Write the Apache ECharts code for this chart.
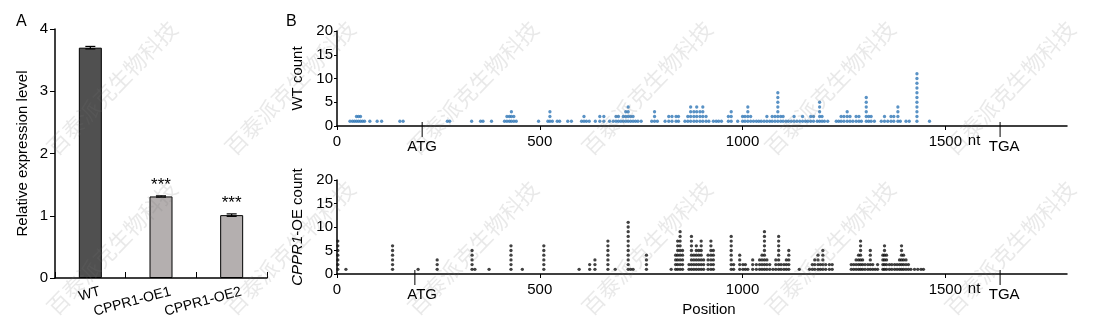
<!DOCTYPE html>
<html><head><meta charset="utf-8">
<script src="https://cdn.jsdelivr.net/npm/echarts@6/dist/echarts.min.js"></script>
<style>html,body{margin:0;padding:0;background:#fff}#c{width:1101px;height:329px}</style>
</head><body><div id="c"></div>
<script>
// ---- Panel A data ----
const categories = ['WT', 'CPPR1-OE1', 'CPPR1-OE2'];
const expression = [3.70, 1.31, 1.01];
const expressionErr = [0.02, 0.01, 0.02];
const significance = ['', '***', '***'];
const expTicks = [0, 1, 2, 3, 4];

// ---- Panel B data ----
const posTicks = [0, 500, 1000, 1500];
const countTicks = [0, 5, 10, 15, 20];
const wtPos = [
  32, 38, 43, 48, 53, 58, 63, 68, 81, 99,
  110, 155, 163, 272, 278, 332, 354, 360, 381, 413,
  419, 425, 430, 436, 442, 497, 520, 525, 531, 543,
  549, 569, 578, 603, 609, 615, 622, 637, 648, 658,
  672, 681, 688, 694, 700, 706, 712, 718, 724, 730,
  736, 742, 750, 776, 783, 790, 809, 818, 826, 836,
  842, 858, 865, 872, 880, 887, 895, 902, 910, 917,
  928, 935, 941, 948, 965, 972, 988, 1000, 1006, 1013,
  1020, 1027, 1034, 1040, 1046, 1053, 1060, 1067, 1073, 1080,
  1087, 1094, 1100, 1107, 1113, 1120, 1127, 1134, 1141, 1148,
  1155, 1161, 1168, 1175, 1184, 1190, 1196, 1202, 1210, 1231,
  1237, 1243, 1250, 1258, 1265, 1272, 1280, 1287, 1293, 1305,
  1311, 1317, 1325, 1342, 1350, 1358, 1366, 1373, 1383, 1389,
  1403, 1411, 1430, 1461
];
const wtCount = [
  1, 1, 1, 2, 2, 2, 1, 1, 1, 1,
  1, 1, 1, 1, 1, 1, 1, 1, 1, 1,
  2, 2, 3, 2, 1, 1, 1, 3, 1, 1,
  1, 1, 1, 1, 2, 1, 1, 1, 2, 2,
  1, 1, 2, 2, 1, 2, 3, 4, 2, 2,
  1, 1, 1, 1, 3, 1, 1, 2, 2, 2,
  2, 1, 2, 4, 3, 4, 3, 4, 2, 1,
  1, 1, 1, 1, 2, 3, 1, 2, 2, 4,
  2, 1, 1, 1, 1, 1, 2, 1, 2, 2,
  7, 2, 2, 1, 1, 1, 2, 1, 1, 2,
  1, 1, 2, 2, 1, 5, 2, 1, 1, 1,
  1, 2, 2, 3, 2, 1, 2, 2, 1, 6,
  2, 2, 1, 1, 2, 1, 2, 2, 4, 1,
  1, 1, 11, 1
];
const oePos = [
  2, 22, 137, 200, 247, 333, 340, 375, 429, 457,
  510, 597, 623, 636, 668, 686, 718, 724, 730, 763,
  824, 835, 840, 846, 852, 868, 874, 880, 886, 892,
  898, 904, 915, 922, 928, 972, 978, 993, 1001, 1007,
  1013, 1025, 1034, 1042, 1048, 1054, 1060, 1067, 1075, 1082,
  1089, 1095, 1102, 1108, 1114, 1140, 1165, 1172, 1178, 1186,
  1192, 1198, 1205, 1214, 1221, 1268, 1274, 1280, 1286, 1291,
  1296, 1302, 1309, 1315, 1321, 1327, 1333, 1346, 1350, 1355,
  1362, 1368, 1375, 1381, 1387, 1392, 1397, 1403, 1409, 1415,
  1424, 1432, 1440, 1446
];
const oeCount = [
  7, 1, 6, 1, 3, 5, 1, 1, 6, 1,
  6, 1, 2, 3, 7, 1, 11, 1, 1, 4,
  1, 4, 7, 9, 5, 2, 8, 4, 6, 5,
  7, 3, 4, 7, 5, 8, 2, 4, 2, 2,
  1, 3, 2, 3, 4, 9, 3, 2, 1, 3,
  8, 2, 2, 3, 5, 1, 1, 2, 3, 4,
  2, 5, 2, 2, 2, 2, 2, 3, 4, 7,
  3, 2, 2, 5, 2, 1, 2, 4, 6, 4,
  2, 2, 2, 2, 3, 6, 4, 3, 2, 1,
  1, 1, 1, 1
];
const markNames = ['ATG', 'TGA'];
const wtMarkPos = [210, 1635];
const oeMarkPos = [192, 1635];
const markLabelPos = [210, 1645];
const unitLabel = 'nt';
const unitLabelPos = 1571;
const watermark = '百泰派克生物科技';

// ---- styling ----
const FONT = '"Liberation Sans", Arial, sans-serif';
const BLACK = '#000';
const barColors = ['#505050', '#b4afaf', '#b4afaf'];
const wtColor = '#2f77b6';
const oeColor = '#111111';
const wmX = [112, 290, 473, 647, 830, 1010];
const wmY = [88, 248];

function expand(pos, cnt) {
  const pts = [];
  pos.forEach((p, i) => { for (let k = 1; k <= cnt[i]; k++) pts.push([p, k]); });
  return pts;
}

const axisLine = { show: true, onZero: false, lineStyle: { color: BLACK, width: 1.5 } };

function posAxis(gi, extra) {
  return Object.assign({
    gridIndex: gi, type: 'value', min: 0, max: 1800,
    splitLine: { show: false }, axisLine: axisLine,
    axisTick: { show: true, customValues: posTicks, length: 4, lineStyle: { color: BLACK, width: 1 } },
    axisLabel: { customValues: posTicks, color: BLACK, fontSize: 15, margin: 8, fontFamily: FONT,
      formatter: v => String(v) }
  }, extra || {});
}
function countAxis(gi, extra) {
  return Object.assign({
    gridIndex: gi, type: 'value', min: 0, max: 20, interval: 5,
    splitLine: { show: false }, axisLine: axisLine,
    axisTick: { show: true, length: 3, lineStyle: { color: BLACK, width: 1 } },
    axisLabel: { color: BLACK, fontSize: 15, margin: 4, fontFamily: FONT },
    nameLocation: 'middle', nameTextStyle: { color: BLACK, fontSize: 15, fontFamily: FONT }
  }, extra || {});
}

function markSeries(axisIdx, markPos) {
  return {
    type: 'custom', xAxisIndex: axisIdx, yAxisIndex: axisIdx, clip: false, silent: true,
    data: markNames.map((n, i) => [markPos[i], 0, markLabelPos[i]]),
    renderItem: function (params, api) {
      const p = api.coord([api.value(0), 0]);
      const q = api.coord([api.value(2), 0]);
      return { type: 'group', children: [
        { type: 'line', shape: { x1: p[0], y1: p[1] - 4, x2: p[0], y2: p[1] + 11 }, style: { stroke: BLACK, lineWidth: 1 } },
        { type: 'text', x: q[0], y: p[1] + 13, style: { text: markNames[params.dataIndex], textAlign: 'center', textVerticalAlign: 'top', fontSize: 15, fontFamily: FONT, fill: BLACK } }
      ]};
    }
  };
}
function unitSeries(axisIdx) {
  return {
    type: 'custom', xAxisIndex: axisIdx, yAxisIndex: axisIdx, clip: false, silent: true,
    data: [[unitLabelPos, 0]],
    renderItem: function (params, api) {
      const p = api.coord([api.value(0), 0]);
      return { type: 'text', x: p[0], y: p[1] + 7, style: { text: unitLabel, textAlign: 'center', textVerticalAlign: 'top', fontSize: 15, fontFamily: FONT, fill: BLACK } };
    }
  };
}

const graphics = [];
wmX.forEach(x => wmY.forEach(y => graphics.push({
  type: 'text', x: x, y: y, rotation: 0.8, z: 100, silent: true,
  style: { text: watermark, fontSize: 22, fontFamily: '"Noto Sans CJK SC", sans-serif', fill: 'rgba(120,120,120,0.16)', textAlign: 'center', textVerticalAlign: 'middle' }
})));

const option = {
  animation: false,
  backgroundColor: '#fff',
  textStyle: { fontFamily: FONT },
  title: [
    { text: 'A', left: 16, top: 14, padding: 0, textStyle: { fontSize: 16, fontWeight: 'normal', color: BLACK, fontFamily: FONT } },
    { text: 'B', left: 286, top: 14, padding: 0, textStyle: { fontSize: 16, fontWeight: 'normal', color: BLACK, fontFamily: FONT } }
  ],
  grid: [
    { left: 55, top: 29, width: 212, height: 249 },
    { left: 337, top: 31, width: 730, height: 95 },
    { left: 337, top: 180, width: 730, height: 94 }
  ],
  xAxis: [
    { gridIndex: 0, type: 'category', data: categories,
      axisLine: axisLine,
      axisTick: { show: true, inside: true, length: 6, lineStyle: { color: BLACK, width: 1 } },
      axisLabel: { rotate: 15, color: BLACK, fontSize: 14, margin: 16, fontFamily: FONT, padding: [0, -10, 0, 0] } },
    posAxis(1),
    posAxis(2, { name: 'Position', nameLocation: 'middle', nameGap: 28,
      nameTextStyle: { color: BLACK, fontSize: 15, fontFamily: FONT, padding: [0, 0, 0, 14] } })
  ],
  yAxis: [
    { gridIndex: 0, type: 'value', min: 0, max: 4, interval: 1,
      splitLine: { show: false }, axisLine: axisLine,
      axisTick: { show: true, length: 5, lineStyle: { color: BLACK, width: 1 } },
      axisLabel: { customValues: expTicks, color: BLACK, fontSize: 15, margin: 7, fontFamily: FONT },
      name: 'Relative expression level', nameLocation: 'middle', nameGap: 25,
      nameTextStyle: { color: BLACK, fontSize: 15, fontFamily: FONT } },
    countAxis(1, { name: 'WT count', nameGap: 25 }),
    countAxis(2, { name: '{i|CPPR1}-OE count', nameGap: 32,
      nameTextStyle: { color: BLACK, fontSize: 15, fontFamily: FONT,
        rich: { i: { fontStyle: 'italic', fontSize: 15, color: BLACK, fontFamily: FONT } } } })
  ],
  series: [
    { type: 'bar', xAxisIndex: 0, yAxisIndex: 0, barWidth: 23,
      data: expression.map((v, i) => ({ value: v, itemStyle: { color: barColors[i], borderColor: BLACK, borderWidth: 1 } })),
      label: { show: true, position: 'top', distance: 3, color: BLACK, fontSize: 17, fontFamily: FONT,
        formatter: p => significance[p.dataIndex] } },
    { type: 'custom', xAxisIndex: 0, yAxisIndex: 0, silent: true, z: 5,
      data: expression.map((v, i) => [i, v, expressionErr[i]]),
      renderItem: function (params, api) {
        const i = api.value(0), v = api.value(1), e = api.value(2);
        const t = api.coord([i, v + e]), b = api.coord([i, v - e]);
        const w = 5;
        const st = { stroke: BLACK, lineWidth: 1.2 };
        return { type: 'group', children: [
          { type: 'line', shape: { x1: t[0], y1: t[1], x2: b[0], y2: b[1] }, style: st },
          { type: 'line', shape: { x1: t[0] - w, y1: t[1], x2: t[0] + w, y2: t[1] }, style: st },
          { type: 'line', shape: { x1: b[0] - w, y1: b[1], x2: b[0] + w, y2: b[1] }, style: st }
        ]};
      } },
    { type: 'scatter', xAxisIndex: 1, yAxisIndex: 1, symbol: 'circle', symbolSize: 3.3,
      itemStyle: { color: wtColor }, data: expand(wtPos, wtCount) },
    { type: 'scatter', xAxisIndex: 2, yAxisIndex: 2, symbol: 'circle', symbolSize: 3.3,
      itemStyle: { color: oeColor }, data: expand(oePos, oeCount) },
    markSeries(1, wtMarkPos),
    markSeries(2, oeMarkPos),
    unitSeries(1),
    unitSeries(2)
  ],
  graphic: graphics
};

const chart = echarts.init(document.getElementById('c'), null, { renderer: 'canvas' });
chart.setOption(option);
</script>
</body></html>
